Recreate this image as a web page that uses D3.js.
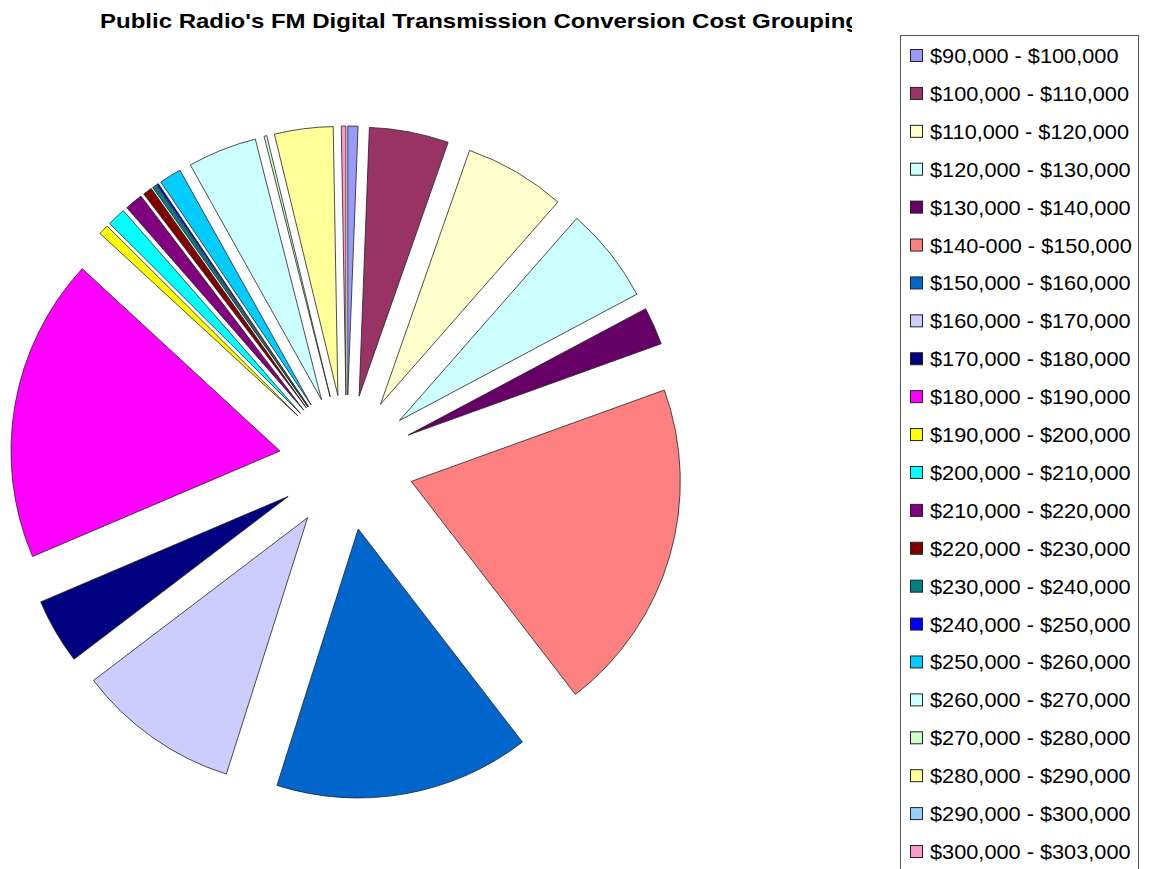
<!DOCTYPE html>
<html>
<head>
<meta charset="utf-8">
<script src="https://cdn.jsdelivr.net/npm/d3@7"></script>
<style>
  body { margin: 0; background: #fff; }
  svg { display: block; font-family: Arial, "Liberation Sans", sans-serif; }
</style>
</head>
<body>
<svg id="chart" width="1149" height="869"></svg>
<script>
// cost groupings, clockwise from 12 o'clock
var groups = ["$90,000 - $100,000", "$100,000 - $110,000", "$110,000 - $120,000",
              "$120,000 - $130,000", "$130,000 - $140,000", "$140-000 - $150,000",
              "$150,000 - $160,000", "$160,000 - $170,000", "$170,000 - $180,000",
              "$180,000 - $190,000", "$190,000 - $200,000", "$200,000 - $210,000",
              "$210,000 - $220,000", "$220,000 - $230,000", "$230,000 - $240,000",
              "$240,000 - $250,000", "$250,000 - $260,000", "$260,000 - $270,000",
              "$270,000 - $280,000", "$280,000 - $290,000", "$290,000 - $300,000",
              "$300,000 - $303,000"];

// share of stations per group
var shares = [2.2, 17.2, 22.0, 20.8, 8.2, 72.5, 55.4, 35.3, 14.2, 66.0,
              2.2, 4.0, 3.9, 2.0, 0.9, 0.4, 4.8, 15.0, 0.6, 12.7, 0, 1.0];

var colors = ["#9999FF", "#993366", "#FFFFCC", "#CCFFFF", "#660066", "#FF8080",
              "#0066CC", "#CCCCFF", "#000080", "#FF00FF", "#FFFF00", "#00FFFF",
              "#800080", "#800000", "#008080", "#0000FF", "#00CCFF", "#CCFFFF",
              "#CCFFCC", "#FFFF99", "#99CCFF", "#FF99CC"];

var title = "Public Radio's FM Digital Transmission Conversion Cost Grouping";

var svg = d3.select("svg#chart");
var cx = 346.5, cy = 462.5;
var radius = 269;
var explode = 67.5;

var data = groups.map((g, i) => ({group: g, value: shares[i], color: colors[i]}));

var pie = d3.pie()
            .sort(null)
            .value(d => d.value);

var arc = d3.arc()
            .innerRadius(0)
            .outerRadius(radius);

var viz = svg.append("g")
             .attr("transform", "translate(" + cx + "," + cy + ")");

viz.selectAll("path.slice")
   .data(pie(data).filter(d => d.value > 0))
   .enter().append("path")
   .attr("class", "slice")
   .attr("d", arc)
   .attr("transform", d => {
      var mid = (d.startAngle + d.endAngle) / 2;
      return "translate(" + (explode * Math.sin(mid)) + "," + (-explode * Math.cos(mid)) + ")";
   })
   .attr("fill", d => d.data.color)
   .attr("stroke", "#222")
   .attr("stroke-width", 0.8)
   .attr("stroke-linejoin", "round");

// title, clipped on the right like the original
svg.append("clipPath").attr("id", "titleClip")
   .append("rect").attr("x", 0).attr("y", 0).attr("width", 852).attr("height", 40);

svg.append("text")
   .attr("clip-path", "url(#titleClip)")
   .attr("x", 100)
   .attr("y", 28)
   .attr("font-size", "21px")
   .attr("font-weight", "bold")
   .attr("textLength", 760)
   .attr("lengthAdjust", "spacingAndGlyphs")
   .text(title);

// legend
var legend = svg.append("g");
legend.append("rect")
      .attr("x", 900.5)
      .attr("y", 35.5)
      .attr("width", 238)
      .attr("height", 860)
      .attr("fill", "#fff")
      .attr("stroke", "#555")
      .attr("stroke-width", 1);

var rowY = d3.scaleLinear().domain([0, groups.length - 1]).range([56, 852]);

var items = legend.selectAll("g.item")
                  .data(data)
                  .enter().append("g")
                  .attr("class", "item")
                  .attr("transform", (d, i) => "translate(0," + rowY(i) + ")");

items.append("rect")
     .attr("x", 910.5)
     .attr("y", -6.5)
     .attr("width", 12)
     .attr("height", 12)
     .attr("fill", d => d.color)
     .attr("stroke", "#222")
     .attr("stroke-width", 1);

items.append("text")
     .attr("x", 930)
     .attr("y", 7)
     .attr("font-size", "20.5px")
     .attr("fill", "#000")
     .text(d => d.group)
     .each(function() {
        var w = this.getComputedTextLength();
        d3.select(this).attr("textLength", w * 1.06).attr("lengthAdjust", "spacingAndGlyphs");
     });
</script>
</body>
</html>
